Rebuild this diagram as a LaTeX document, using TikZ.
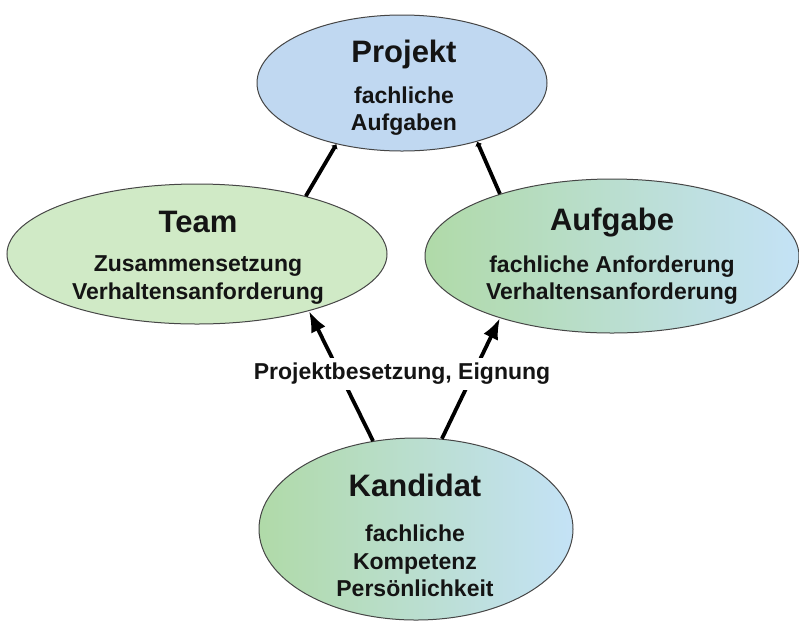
\documentclass[tikz,border=0pt]{standalone}
\usepackage{fontspec}
\setmainfont{Liberation Sans}
\usetikzlibrary{arrows.meta,shapes.geometric}
\definecolor{projblue}{RGB}{192,216,241}
\definecolor{teamgreen}{RGB}{208,234,198}
\definecolor{ggreen}{RGB}{176,218,168}
\definecolor{gblue}{RGB}{196,226,246}
\definecolor{outl}{RGB}{70,70,70}
\tikzset{
  ell/.style={ellipse, draw=outl, line width=1pt, inner sep=0pt},
  ttl/.style={font=\bfseries\fontsize{31}{36}\selectfont, inner sep=0pt, text=black!92},
  sub/.style={font=\bfseries\fontsize{23}{27.5}\selectfont, inner sep=0pt, align=center, text=black!92},
  conn/.style={line width=3.8pt, black},
  bigtip/.style={-{Latex[length=21pt,width=16pt]}},
  smalltip/.style={-{Latex[length=4pt,width=8pt]}},
}
\begin{document}
\begin{tikzpicture}[x=1pt,y=-1pt]
\useasboundingbox (0,0) rectangle (799,625);
\fill[white] (0,0) rectangle (799,625);
% ellipses
\node[ell, fill=projblue, minimum width=290pt, minimum height=136pt] (proj) at (402,83) {};
\node[ell, fill=teamgreen, minimum width=380pt, minimum height=140pt] (team) at (197,254) {};
\node[ell, left color=ggreen, right color=gblue, minimum width=374pt, minimum height=154pt] (aufg) at (612,256) {};
\node[ell, left color=ggreen, right color=gblue, minimum width=314pt, minimum height=182pt] (kand) at (416,529) {};
% connectors
\draw[conn, smalltip] (team.28) -- (proj.223);
\draw[conn, smalltip] (aufg.151) -- (proj.-38);
\draw[conn, bigtip] (kand.116) -- (team.-27);
\draw[conn, bigtip] (kand.74) -- (aufg.209);
% texts
\node[ttl] (projT) at (404,54) {Projekt};
\node[sub] (projS) at (404,111) {fachliche\\Aufgaben};
\node[ttl] (teamT) at (198,222) {Team};
\node[sub] (teamS) at (198,280) {Zusammensetzung\\Verhaltensanforderung};
\node[ttl] (aufgT) at (612,223) {Aufgabe};
\node[sub] (aufgS) at (612,280) {fachliche Anforderung\\Verhaltensanforderung};
\node[ttl] (kandT) at (415,485) {Kandidat};
\node[sub] (kandS) at (415,561) {fachliche\\Kompetenz\\Persönlichkeit};
\node[sub, fill=white, inner sep=5pt] (lbl) at (402,374) {Projektbesetzung, Eignung};
\end{tikzpicture}
\end{document}
